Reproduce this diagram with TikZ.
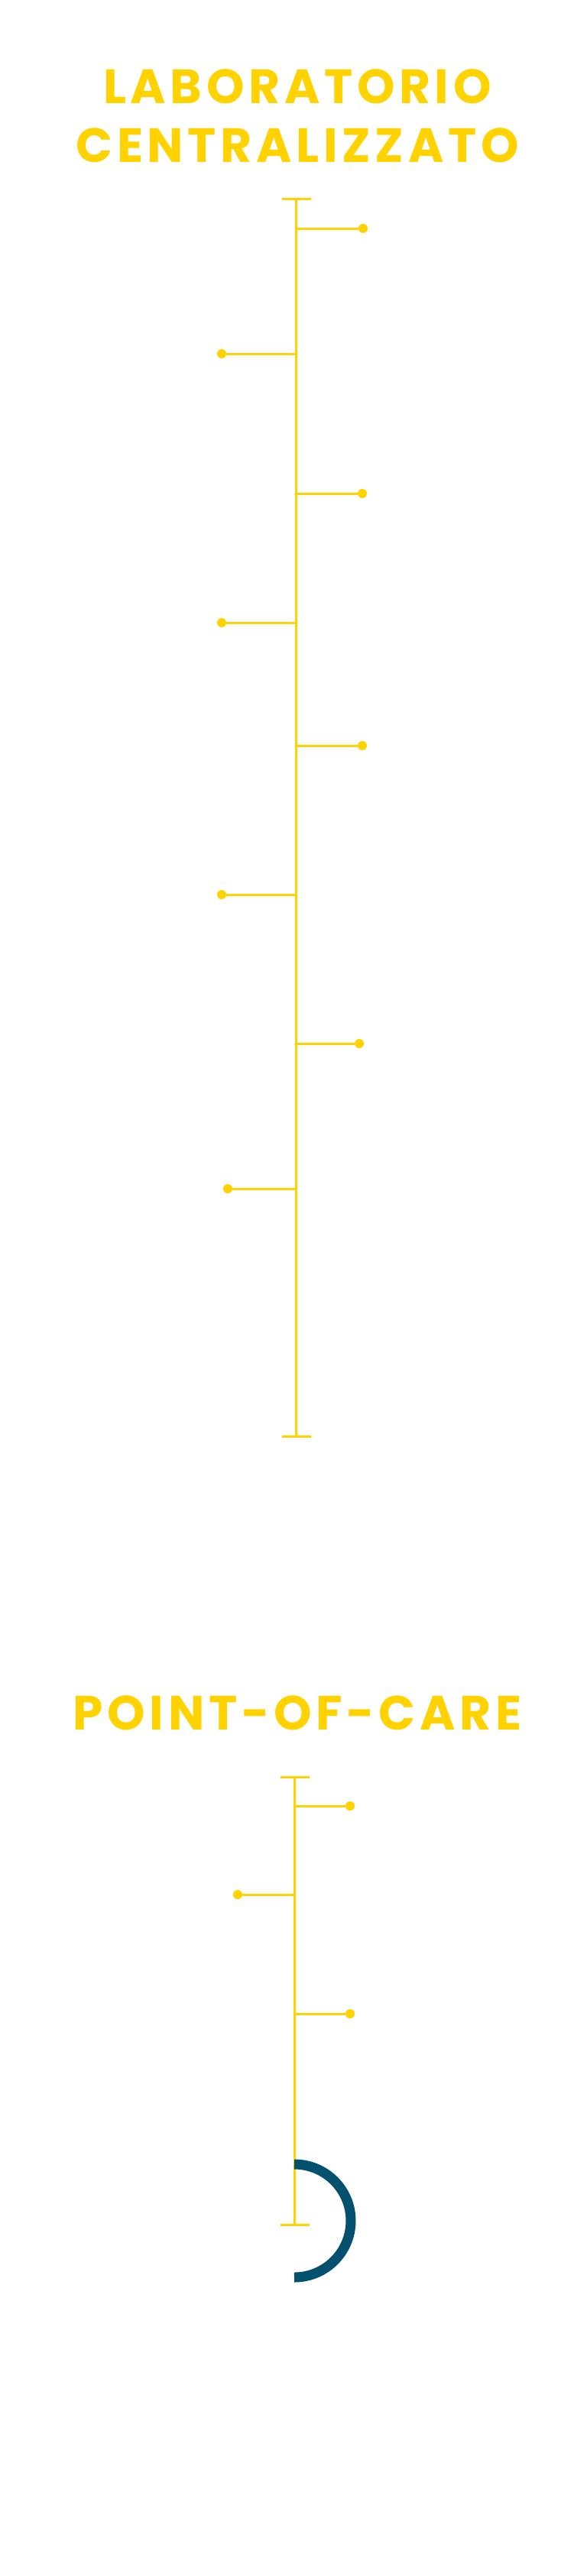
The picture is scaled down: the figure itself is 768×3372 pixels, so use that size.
\documentclass[tikz,border=0pt]{standalone}
\usepackage{fontspec}
\setmainfont{Poppins}[LetterSpace=9]
\definecolor{giallo}{HTML}{FFD200}
\definecolor{blu}{HTML}{04506F}
\begin{document}
\begin{tikzpicture}[x=1pt,y=-1pt]
\tikzstyle{titolo}=[text=giallo, font=\fontsize{63}{77}\selectfont\bfseries, align=center, inner sep=0pt]
\tikzstyle{asse}=[draw=giallo, line width=3pt]
\tikzstyle{punto}=[circle, fill=giallo, minimum size=12pt, inner sep=0pt]
\useasboundingbox (0,0) rectangle (768,3372);
\node[titolo] (tit1) at (389,152) {LABORATORIO\\CENTRALIZZATO};
% asse principale
\coordinate (a0) at (387,260);
\coordinate (a1) at (387,1880);
\draw[asse] (a0) -- (a1);
\draw[asse] (369,260) -- (407,260);
\draw[asse] (369,1880) -- (407,1880);
\foreach \y/\x [count=\i] in {299/475, 463/290, 646/474, 815/290, 976/474, 1171/290, 1366/470, 1556/298}
{
\node[punto] (p\i) at (\x,\y) {};
\coordinate (b\i) at (387,\y);
\draw[asse] (b\i) -- (p\i);
}
\node[titolo] (tit2) at (389,2242) {POINT-OF-CARE};
% secondo asse
\coordinate (c0) at (385,2326);
\coordinate (c1) at (385,2912);
\draw[asse] (c0) -- (c1);
\draw[asse] (367,2326) -- (405,2326);
\draw[asse] (367,2912) -- (405,2912);
\foreach \y/\x [count=\i] in {2364/458, 2480/311, 2636/458}
{
\node[punto] (q\i) at (\x,\y) {};
\coordinate (d\i) at (385,\y);
\draw[asse] (d\i) -- (q\i);
}
\draw[blu, line width=13pt] (385,2981) arc[start angle=90, end angle=-90, radius=74];
\end{tikzpicture}
\end{document}
